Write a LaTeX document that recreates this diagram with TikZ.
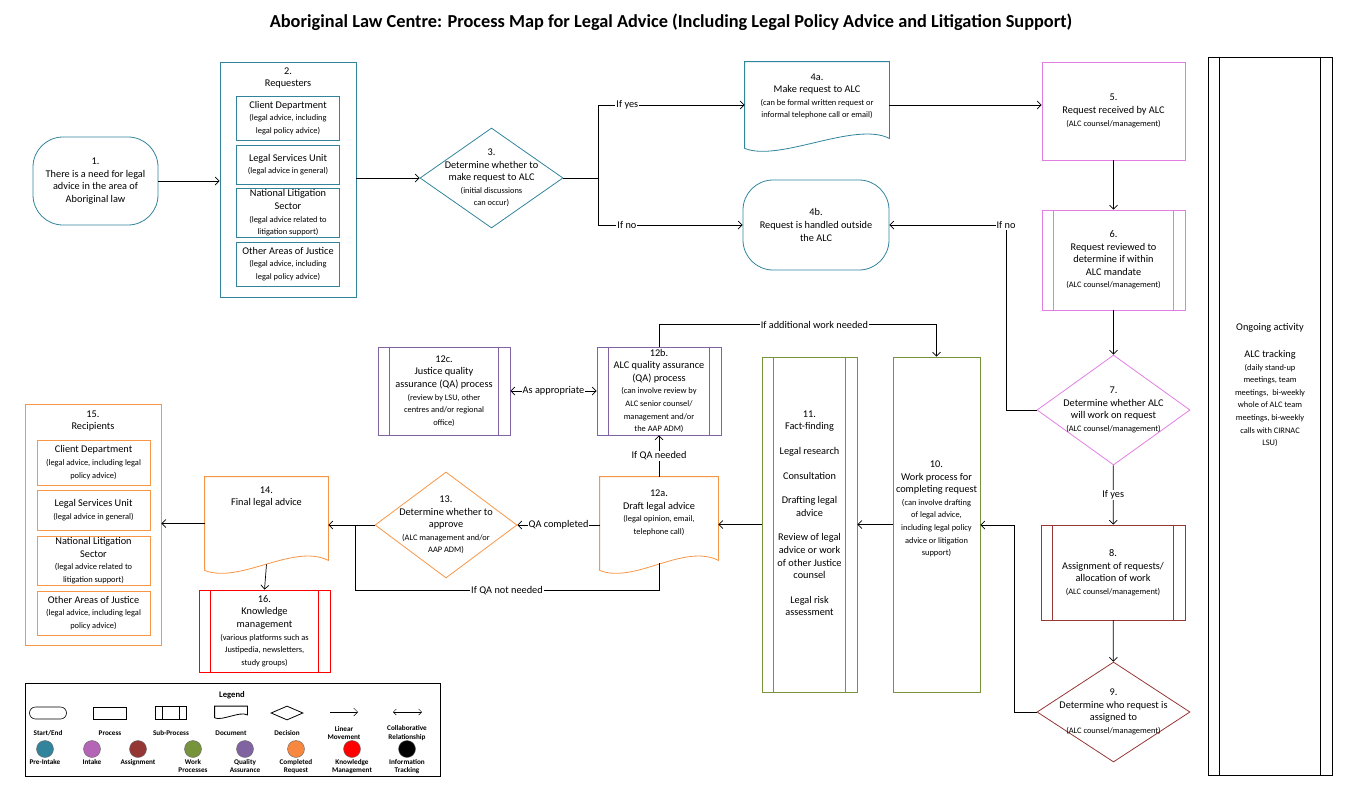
\documentclass[tikz,border=0pt]{standalone}
\usepackage{fontspec}
\setmainfont{Carlito}
\usetikzlibrary{shapes.geometric,arrows.meta,positioning,calc}
\newcommand\sm{\fontsize{8.4}{10.6}\selectfont}
\definecolor{preint}{HTML}{31849B}
\definecolor{intake}{HTML}{E27EE2}
\definecolor{assign}{HTML}{953735}
\definecolor{workp}{HTML}{77933C}
\definecolor{qualas}{HTML}{8064A2}
\definecolor{compl}{HTML}{F79646}
\definecolor{knowm}{HTML}{FF0000}
\def\subgap{12}
\def\docw{35}
\def\docr{10}
\tikzset{
  base/.style={align=center,inner sep=1pt,font=\fontsize{10.3}{12.6}\selectfont,line width=0.8pt},
  term/.style={base,rectangle,draw=#1,rounded corners=30pt},
  proc/.style={base,rectangle,draw=#1},
  sub/.style={base,rectangle,draw=#1,append after command={\pgfextra{%
    \draw[#1,line width=0.8pt] ($(\tikzlastnode.north west)+(\subgap,0)$) -- ($(\tikzlastnode.south west)+(\subgap,0)$)
      ($(\tikzlastnode.north east)+(-\subgap,0)$) -- ($(\tikzlastnode.south east)+(-\subgap,0)$);}}},
  doc/.style={base,rectangle,append after command={\pgfextra{%
    \draw[#1,line width=0.8pt] (\tikzlastnode.south west) -- (\tikzlastnode.north west) -- (\tikzlastnode.north east)
      -- ($(\tikzlastnode.south east)+(0,-\docr)$) .. controls +(-\docw,-0.5*\docw) and +(\docw,0.4*\docw) .. (\tikzlastnode.south west);}}},
  dec/.style={base,diamond,draw=#1,inner sep=0pt},
  lbl/.style={fill=white,inner sep=1pt,font=\fontsize{10.3}{12}\selectfont},
  conn/.style={line width=0.7pt,-{Straight Barb[length=4pt,width=8pt]}},
  leg/.style={font=\fontsize{7.2}{8.4}\selectfont\bfseries,align=center,inner sep=0pt},
  dot/.style={circle,minimum size=17pt,inner sep=0pt,draw=black!60,fill=#1}
}
\begin{document}
\begin{tikzpicture}[x=1pt,y=-1pt]
\useasboundingbox (0,0) rectangle (1346,795);
\node[font=\fontsize{18.3}{20}\selectfont\bfseries] (title) at (671,22) {Aboriginal Law Centre: Process Map for Legal Advice (Including Legal Policy Advice and Litigation Support)};
% pre-intake
\node[term=preint,minimum width=125pt,minimum height=88pt] (n1) at (95.5,181) {1.\\There is a need for legal\\advice in the area of\\Aboriginal law};
\node[proc=preint,minimum width=136pt,minimum height=235pt] (req) at (288,179.5) {};
\node[base] (reqt) at (288,78) {2.\\Requesters};
\node[proc=preint,minimum width=103pt,minimum height=44pt] (rc1) at (288,118) {Client Department\\\sm(legal advice, including\\\sm legal policy advice)};
\node[proc=preint,minimum width=103pt,minimum height=39pt] (rc2) at (288,164.5) {Legal Services Unit\\\sm(legal advice in general)};
\node[proc=preint,minimum width=103pt,minimum height=48pt] (rc3) at (288,213) {National Litigation\\Sector\\\sm(legal advice related to\\\sm litigation support)};
\node[proc=preint,minimum width=103pt,minimum height=44pt] (rc4) at (288,264) {Other Areas of Justice\\\sm(legal advice, including\\\sm legal policy advice)};
\node[dec=preint,minimum width=143pt,minimum height=100pt,label={[base]center:3.\\Determine whether to\\make request to ALC\\\sm(initial discussions\\\sm can occur)}] (d3) at (491.5,178) {};
\node[doc=preint,minimum width=144pt,minimum height=86pt] (d4a) at (817,105) {4a.\\Make request to ALC\\\sm(can be formal written request or\\\sm informal telephone call or email)\\[6pt]};
\node[term=preint,minimum width=146pt,minimum height=90pt] (t4b) at (816,225) {4b.\\Request is handled outside\\the ALC};
% intake and assignment
\node[proc=intake,minimum width=143pt,minimum height=98pt] (p5) at (1113.5,111) {5.\\Request received by ALC\\\sm(ALC counsel/management)};
\node[sub=intake,minimum width=143pt,minimum height=100pt] (s6) at (1113.5,260) {6.\\Request reviewed to\\determine if within\\ALC mandate\\\sm(ALC counsel/management)};
\node[dec=intake,minimum width=153pt,minimum height=110pt,label={[base]center:7.\\Determine whether ALC\\will work on request\\\sm(ALC counsel/management)}] (d7) at (1113.5,410) {};
\node[sub=assign,minimum width=144pt,minimum height=95pt] (s8) at (1113,572.5) {8.\\Assignment of requests/\\allocation of work\\\sm(ALC counsel/management)};
\node[dec=assign,minimum width=153pt,minimum height=100pt,label={[base]center:9.\\Determine who request is\\assigned to\\\sm(ALC counsel/management)}] (d9) at (1113.5,712) {};
\node[sub=black,minimum width=124pt,minimum height=718pt] (ongo) at (1270,416) {Ongoing activity\\[14pt]ALC tracking\\\sm(daily stand-up\\\sm meetings, team\\\sm meetings,\ \ bi-weekly\\\sm whole of ALC team\\\sm meetings, bi-weekly\\\sm calls with CIRNAC\\\sm LSU)\\[50pt]};
% work processes
\node[proc=workp,minimum width=87pt,minimum height=335pt] (p10) at (936.5,524.5) {10.\\Work process for\\completing request\\\sm(can involve drafting\\\sm of legal advice,\\\sm including legal policy\\\sm advice or litigation\\\sm support)\\[20pt]};
\node[sub=workp,minimum width=95pt,minimum height=335pt] (s11) at (809.5,524.5) {11.\\Fact-finding\\[12pt]Legal research\\[12pt]Consultation\\[12pt]Drafting legal\\advice\\[12pt]Review of legal\\advice or work\\of other Justice\\counsel\\[12pt]Legal risk\\assessment\\[10pt]};
% quality assurance
\node[doc=compl,minimum width=118pt,minimum height=93pt] (d12a) at (659,523.5) {12a.\\Draft legal advice\\\sm(legal opinion, email,\\\sm telephone call)\\[10pt]};
\node[sub=qualas,minimum width=124pt,minimum height=88pt] (s12b) at (659,391) {12b.\\ALC quality assurance\\(QA) process\\\sm(can involve review by\\\sm ALC senior counsel/\\\sm management and/or\\\sm the AAP ADM)};
\node[sub=qualas,minimum width=132pt,minimum height=88pt] (s12c) at (444,391) {12c.\\Justice quality\\assurance (QA) process\\\sm(review by LSU, other\\\sm centres and/or regional\\\sm office)};
\node[dec=compl,minimum width=142pt,minimum height=106pt,label={[base]center:13.\\Determine whether to\\approve\\\sm(ALC management and/or\\\sm AAP ADM)}] (d13) at (446,525) {};
% completed request
\node[doc=compl,minimum width=123pt,minimum height=93pt] (d14) at (266.5,523.5) {14.\\Final legal advice\\[42pt]};
\node[proc=compl,minimum width=136pt,minimum height=241pt] (rcp) at (93,524.5) {};
\node[base] (rcpt) at (93,421) {15.\\Recipients};
\node[proc=compl,minimum width=113pt,minimum height=45pt] (rp1) at (93.5,462.5) {Client Department\\\sm(legal advice, including legal\\\sm policy advice)};
\node[proc=compl,minimum width=113pt,minimum height=40pt] (rp2) at (93.5,510) {Legal Services Unit\\\sm(legal advice in general)};
\node[proc=compl,minimum width=113pt,minimum height=49pt] (rp3) at (93.5,560.5) {National Litigation\\Sector\\\sm(legal advice related to\\\sm litigation support)};
\node[proc=compl,minimum width=113pt,minimum height=44pt] (rp4) at (93.5,613) {Other Areas of Justice\\\sm(legal advice, including legal\\\sm policy advice)};
\node[sub=knowm,minimum width=131pt,minimum height=82pt] (s16) at (264.5,631) {16.\\Knowledge\\management\\\sm(various platforms such as\\\sm Justipedia, newsletters,\\\sm study groups)};
% connectors
\coordinate (j3) at (598,178);
\coordinate (c7) at (1006,225);
\coordinate (c9) at (1014,525);
\coordinate (c13) at (355,525);
\draw[conn] (n1.east) -- (n1.east -| req.west);
\draw[conn] (d3.west -| req.east) -- (d3.west);
\draw[line width=0.7pt] (d3.east) -- (j3);
\draw[conn] (j3) |- node[lbl,pos=0.6]{If yes} (d4a.west);
\draw[conn] (j3) |- node[lbl,pos=0.6]{If no} (t4b.west);
\draw[conn] (d4a.east) -- (d4a.east -| p5.west);
\draw[conn] (p5) -- (s6);
\draw[conn] (s6) -- (d7);
\draw[conn] (d7.west) -| (c7) node[lbl]{If no} -- (t4b.east);
\draw[conn] (d7) -- node[lbl]{If yes} (s8);
\draw[conn] (s8) -- (d9);
\draw[conn] (d9.west) -| (c9) -- (c9 -| p10.east);
\draw[conn] (p10.west) -- (p10.west -| s11.east);
\draw[conn] (s11.west) -- (s11.west -| d12a.east);
\draw[conn] (d13.east -| d12a.west) -- node[lbl]{QA completed} (d13.east);
\draw[conn] (d12a.north) -- node[lbl]{If QA needed} (s12b.south);
\draw[conn] (s12b.north) -- ++(0,-22) -| node[lbl,pos=0.28]{If additional work needed} (p10.north);
\draw[line width=0.7pt,{Straight Barb[length=4pt,width=8pt]}-{Straight Barb[length=4pt,width=8pt]}] (s12c) -- node[lbl]{As appropriate} (s12b);
\draw[conn] (d13.west) -- (d13.west -| d14.east);
\draw[line width=0.7pt] ($(d12a.south)+(0,-7)$) -- ++(0,27) -| node[lbl,pos=0.25]{If QA not needed} (c13);
\draw[conn] (d14.west) -- (d14.west -| rcp.east);
\draw[conn] ($(d14.south)+(0,-6)$) -- (s16.north);
% legend
\node[draw,line width=0.8pt,minimum width=415pt,minimum height=93pt] (legend) at (232.5,729.5) {};
\node[leg,font=\fontsize{8.6}{10}\selectfont\bfseries] (legt) at (232,695) {Legend};
\begin{scope}[every node/.append style={line width=0.6pt}]
\def\subgap{7}
\def\docw{8}
\def\docr{3}
\node[draw,rounded corners=6pt,minimum width=37pt,minimum height=12pt] (ls) at (48,713) {};
\node[draw,minimum width=33pt,minimum height=12pt] (lp) at (110,713) {};
\node[sub=black,line width=0.6pt,minimum width=31pt,minimum height=13pt] (lsp) at (171,713) {};
\node[doc=black,minimum width=32pt,minimum height=11pt] (ld) at (231,712) {};
\node[dec=black,minimum width=32pt,minimum height=14pt] (ldc) at (287,713) {};
\coordinate (la1) at (330,712); \coordinate (la2) at (358,712);
\draw[conn,line width=0.5pt] (la1) -- (la2);
\coordinate (lb1) at (393,712); \coordinate (lb2) at (422,712);
\draw[line width=0.5pt,{Straight Barb[length=3pt,width=6pt]}-{Straight Barb[length=3pt,width=6pt]}] (lb1) -- (lb2);
\end{scope}
\node[leg] at (48,733) {Start/End};
\node[leg] at (110,733) {Process};
\node[leg] at (171,733) {Sub-Process};
\node[leg] at (231,733) {Document};
\node[leg] at (287,733) {Decision};
\node[leg] at (344,733) {Linear\\Movement};
\node[leg] at (407,733) {Collaborative\\Relationship};
\foreach \cx/\col/\txt in {45/preint/Pre-Intake,92/intake!80!black/Intake,138/assign/Assignment,193/workp/Work\\Processes,245/qualas/Quality\\Assurance,296/compl!90!red/Completed\\Request,352/knowm/Knowledge\\Management,407/black/Information\\Tracking}{
  \node[dot=\col] (dot\cx) at (\cx,749) {};
  \node[leg,anchor=north] at (\cx,759) {\txt};
}
\end{tikzpicture}
\end{document}
